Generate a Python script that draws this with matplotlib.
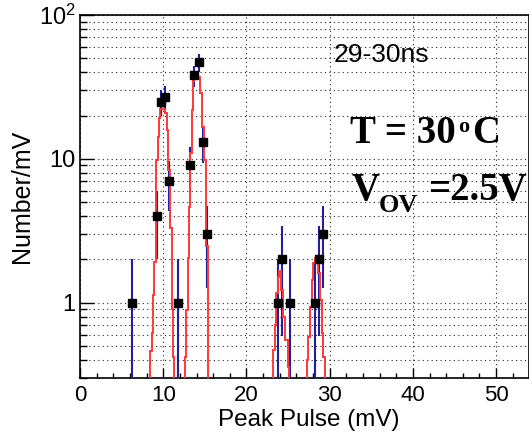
import numpy as np
import matplotlib
matplotlib.use("Agg")
import matplotlib.pyplot as plt
from matplotlib.ticker import MultipleLocator, LogLocator, NullFormatter

plt.rcParams['font.family'] = ['Liberation Sans', 'DejaVu Sans']
plt.rcParams['mathtext.fontset'] = 'custom'
plt.rcParams['mathtext.rm'] = 'Liberation Sans'
plt.rcParams['mathtext.sf'] = 'Liberation Sans'

# histogram points (bin centres, counts)
pulse = [6.25, 9.25, 9.75, 10.25, 10.75, 11.75, 13.25, 13.75, 14.25, 14.75, 15.25,
         23.75, 24.25, 25.25, 28.25, 28.75, 29.25]
counts = [1, 4, 25, 27, 7, 1, 9, 38, 47, 13, 3,
          1, 2, 1, 1, 2, 3]

fitA_edges = [8.2, 8.4, 8.6, 8.8, 8.95, 9.12, 9.33, 9.5, 9.6, 10.2, 10.4, 10.6, 10.8, 11.0, 11.2, 11.35, 11.5]
fitA_vals = [0.1, 0.46, 0.62, 1.14, 1.93, 9.8, 14.3, 19.2, 22.2, 20.9, 15.9, 8.4, 3.3, 0.9, 0.42, 0.1]
fitB_edges = [12.45, 12.6, 12.78, 12.95, 13.05, 13.2, 13.4, 13.6, 13.75, 14.1, 14.4, 14.6, 14.95, 15.12, 15.4, 15.55]
fitB_vals = [0.1, 0.42, 0.89, 2.05, 4.66, 11, 21.8, 35, 40.4, 37, 28.7, 16.7, 9.8, 2.5, 0.1]
fitC_edges = [23.05, 23.2, 23.4, 23.6, 23.8, 23.95, 24.15, 24.4, 24.6, 24.95, 25.1, 25.25]
fitC_vals = [0.1, 0.47, 0.70, 1.17, 1.52, 1.65, 1.23, 0.80, 0.55, 0.36, 0.1]
fitD_edges = [27.1, 27.25, 27.45, 27.65, 27.85, 28.04, 28.25, 28.65, 28.85, 29.05, 29.25, 29.45, 29.6]
fitD_vals = [0.1, 0.40, 0.58, 0.94, 1.44, 1.89, 2.05, 1.6, 1.05, 0.62, 0.42, 0.1]

W, H = 529, 434
fig = plt.figure(figsize=(W / 100, H / 100), dpi=100)
ax = fig.add_axes([80 / W, 1 - 378 / H, 449 / W, 363 / H])
ax.set_yscale('log')
ax.set_xlim(0, 53.95)
ax.set_ylim(0.3, 100)

# poisson error bars
x = np.array(pulse)
n = np.array(counts, dtype=float)
err = np.sqrt(n)
lo = np.clip(n - err, 1e-3, None)
ax.vlines(x, lo, n + err, color='#1f1fa0', lw=1.5, zorder=3)

for e, v in [(fitA_edges, fitA_vals), (fitB_edges, fitB_vals),
             (fitC_edges, fitC_vals), (fitD_edges, fitD_vals)]:
    ax.stairs(v, e, baseline=None, color='#ff3838', lw=1.4, zorder=4)

ax.plot(x, n, 's', color='black', ms=6.3, zorder=5)

# grid, ticks
dots = (0, (1, 3))
ax.grid(True, which='both', axis='y', ls=dots, lw=0.8, color='#222222')
ax.grid(True, which='major', axis='x', ls=dots, lw=0.8, color='#222222')
ax.set_axisbelow(True)

ax.xaxis.set_major_locator(MultipleLocator(10))
ax.xaxis.set_minor_locator(MultipleLocator(2))
ax.yaxis.set_major_locator(LogLocator(base=10))
ax.yaxis.set_minor_locator(LogLocator(base=10, subs=np.arange(2, 10)))
ax.yaxis.set_minor_formatter(NullFormatter())
ax.set_yticks([1, 10, 100])
ax.set_yticklabels(['1', '10', r'$\mathsf{10^{2}}$'])

ax.tick_params(axis='x', which='major', direction='in', length=7.2, width=1, labelsize=16, pad=5)
ax.tick_params(axis='x', which='minor', direction='in', length=3.6, width=1)
ax.tick_params(axis='y', which='major', direction='in', length=10, width=1, labelsize=17, pad=3)
ax.tick_params(axis='y', which='minor', direction='in', length=5, width=1)
for s in ax.spines.values():
    s.set_linewidth(1.2)

ax.set_xlabel('Peak Pulse (mV)', fontsize=17.5)
ax.xaxis.set_label_coords((308 - 80) / 448, -(409 - 378) / 363)
ax.set_ylabel('Number/mV', fontsize=18)
ax.yaxis.set_label_coords(-(80 - 34) / 448, 0.5)

ax.text((333 - 80) / 448, 1 - (62 - 15) / 363, '29-30ns', fontsize=19,
        transform=ax.transAxes, ha='left', va='baseline')

# T = 30 oC and V_OV = 2.5V, bold serif pieces
serif = dict(family='Liberation Serif', weight='bold', ha='left', va='baseline')
fig.text(350 / W, 1 - 143 / H, 'T = 30', fontsize=28, **serif)
fig.text(458 / W, 1 - 132 / H, 'o', fontsize=16, **serif)
fig.text(472 / W, 1 - 143 / H, 'C', fontsize=28, **serif)
fig.text(352 / W, 1 - 200 / H, 'V', fontsize=28, **serif)
fig.text(379 / W, 1 - 212 / H, 'OV', fontsize=19, **serif)
fig.text(428 / W, 1 - 200 / H, '=2.5V', fontsize=28, **serif)

fig.savefig('out.png', dpi=100)
